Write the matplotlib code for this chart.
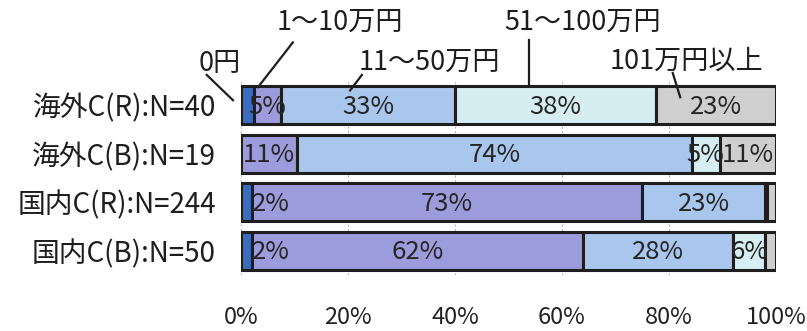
import numpy as np
import matplotlib.pyplot as plt

plt.rcParams['font.family'] = ['Noto Sans CJK JP', 'DejaVu Sans']

groups = ['海外C(R):N=40', '海外C(B):N=19', '国内C(R):N=244', '国内C(B):N=50']
sizes = np.array([40, 19, 244, 50])
bins = ['0円', '1～10万円', '11～50万円', '51～100万円', '101万円以上']
counts = np.array([
    [1, 2, 13, 15, 9],
    [0, 2, 14, 1, 2],
    [5, 178, 56, 1, 4],
    [1, 31, 14, 3, 1],
])
share = counts / sizes[:, None] * 100

colors = ['#3a6cc0', '#9c9cdc', '#a9c6ec', '#d6eef2', '#cfcfcf']
# labels that would not fit their segment are left out
hidden = {(0, 0), (2, 3), (2, 4), (3, 4)}

fig = plt.figure(figsize=(8.07, 3.31), dpi=100)
ax = fig.add_axes([0.2986, 0.169, 0.6630, 0.587])

y = np.arange(len(groups))
left = np.zeros(len(groups))
for j, name in enumerate(bins):
    ax.barh(y, share[:, j], left=left, height=0.78, color=colors[j],
            edgecolor='#1e1e1e', linewidth=2.2, label=name, zorder=3)
    for i in range(len(groups)):
        v = share[i, j]
        if v == 0 or (i, j) in hidden:
            continue
        txt = '%d%%' % int(v + 0.5)
        if j == 0:
            ax.text(left[i] + v + 0.1, i + 0.03, txt, ha='left', va='center',
                    fontsize=18.5, color='#262626', zorder=4)
        else:
            ax.text(left[i] + v / 2, i + 0.03, txt, ha='center', va='center',
                    fontsize=18.5, color='#262626', zorder=4)
    left += share[:, j]

ax.set_xlim(0, 100)
ax.set_ylim(3.5, -0.5)
ax.set_yticks(y)
ax.set_yticklabels(groups, fontsize=20, color='#1e1e1e')
ax.set_xticks([0, 20, 40, 60, 80, 100])
ax.set_xticklabels(['0%', '20%', '40%', '60%', '80%', '100%'], fontsize=17, color='#222222')
ax.tick_params(axis='x', length=0, pad=22)
ax.tick_params(axis='y', length=0, pad=18)
ax.grid(axis='x', color='#bbbbbb', linestyle=(0, (2, 2)), linewidth=0.8, zorder=0)
for s in ax.spines.values():
    s.set_visible(False)

# call-outs naming each segment of the first bar: text centre, leader start, leader end
callouts = [
    ((-3.9, -0.86), (-6.4, -0.62), (-1.5, -0.10)),
    ((18.5, -1.70), (9.7, -1.29), (3.2, -0.37)),
    ((35.3, -0.88), (22.6, -0.62), (20.4, -0.30)),
    ((63.9, -1.70), (53.8, -1.33), (53.8, -0.39)),
    ((83.2, -0.90), (80.7, -0.66), (82.1, -0.16)),
]
for name, (tpos, p0, p1) in zip(bins, callouts):
    ax.text(tpos[0], tpos[1], name, ha='center', va='center', fontsize=19.5,
            color='#1e1e1e', clip_on=False)
    ax.plot([p0[0], p1[0]], [p0[1], p1[1]], color='#1e1e1e', linewidth=1.6,
            clip_on=False, zorder=5)

plt.savefig('out.png', dpi=100)
